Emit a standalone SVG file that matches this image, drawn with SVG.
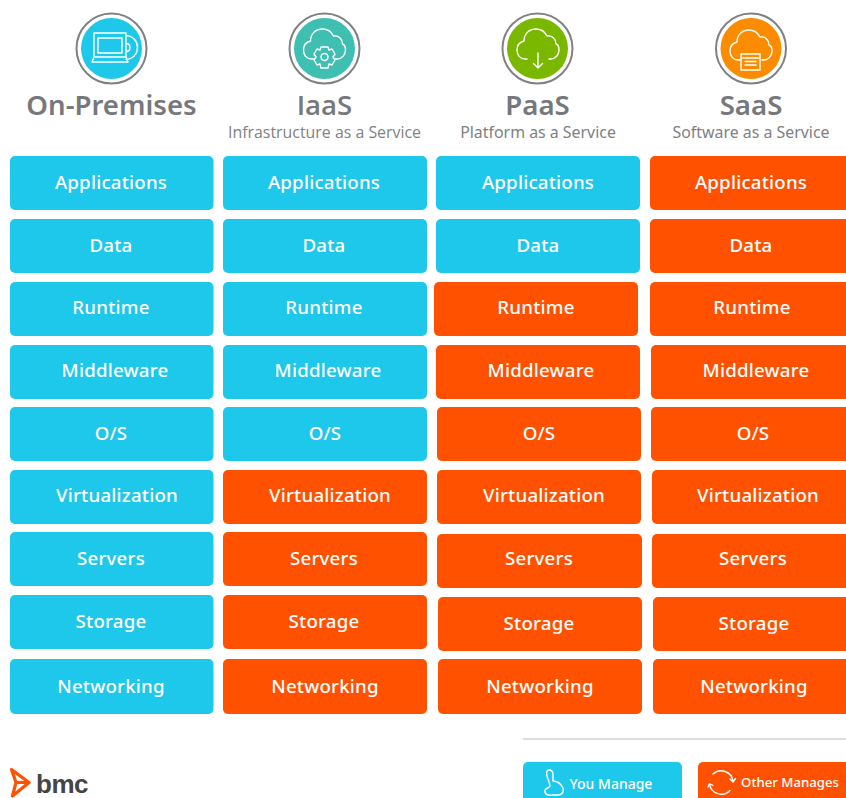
<svg xmlns="http://www.w3.org/2000/svg" width="846" height="798" viewBox="0 0 846 798">
<style>
.bg{fill:#fff}
.b{fill:#1ec8ea}
.o{fill:#ff5100}
.t{font-family:"Noto Sans","Open Sans",sans-serif;font-size:18.7px;font-weight:500;fill:#fff;text-anchor:middle;letter-spacing:.2px}
.h{font-family:"Noto Sans","Open Sans",sans-serif;font-size:27.6px;font-weight:600;fill:#77787b;text-anchor:middle}
.s{font-family:"Noto Sans","Open Sans",sans-serif;font-size:15.9px;fill:#808184;text-anchor:middle}
.os{font-family:"Open Sans","Noto Sans",sans-serif}
.ring{fill:#fff;stroke:#808184;stroke-width:2}
.i{fill:none;stroke:#fff;stroke-width:1.4;stroke-linecap:round;stroke-linejoin:round}
.l{font-family:"Noto Sans","Open Sans",sans-serif;font-size:14px;font-weight:500;fill:#fff;text-anchor:middle}
.l2{font-size:13.2px}
</style>
<rect class="bg" width="846" height="798"/>
<defs>
<path id="cloud" d="M-11 15H-13C-18 15-21 11-21 6-21 1-18-2-14-3-14-10-9-15-2-15 3-15 7-12 9-8 14-9 18-5 18 0 21 1 21 4 21 6 21 11 17 15 13 15H11"/>
</defs>

<g id="on-premises">
<circle class="ring" cx="111.500" cy="48.500" r="35"/>
<circle cx="111.500" cy="48.500" r="30.500" fill="#1ec8ea"/>
<path class="i" d="M94 33H126V57H94ZM98 38H122V53H98ZM94 57 92 62H128L126 57M126 35.500C133 36 137.500 41 137.500 47.500 137.500 54 133 59 126 59.500M126 43.500C128.500 43.500 130 45 130 47.500 130 50 128.500 51.500 126 51.500"/>
<text class="h" x="111.500" y="115">On-Premises</text>
</g>
<g id="iaas">
<circle class="ring" cx="324.500" cy="48.500" r="35"/>
<circle cx="324.500" cy="48.500" r="30.500" fill="#3fbfb1"/>
<use href="#cloud" class="i" transform="translate(324.500 44)"/>
<path class="i" d="M321 47H328L329 50 332 49 335 54 333 57 335 60 332 65 329 64 328 68H321L320 64 317 65 314 60 316 57 314 54 317 49 320 50Z" style="fill:#3fbfb1"/>
<circle class="i" cx="324.500" cy="57" r="3.500"/>
<text class="h os" x="324.500" y="115">IaaS</text>
<text class="s os" x="324.500" y="138">Infrastructure as a Service</text>
</g>
<g id="paas">
<circle class="ring" cx="537.500" cy="48.500" r="35"/>
<circle cx="537.500" cy="48.500" r="30.500" fill="#7ab800"/>
<use href="#cloud" class="i" transform="translate(538 44)"/>
<path class="i" d="M538 53V68M533.500 63.500 538 68 542.500 63.500"/>
<text class="h" x="537.500" y="115">PaaS</text>
<text class="s" x="538" y="138">Platform as a Service</text>
</g>
<g id="saas">
<circle class="ring" cx="751" cy="48.500" r="35"/>
<circle cx="751" cy="48.500" r="30.500" fill="#fb8c00"/>
<use href="#cloud" class="i" transform="translate(751 45)"/>
<path class="i" d="M741 54H760V70H741ZM741 58H760M745 61.500H756M745 65H756" style="fill:#fb8c00"/>
<text class="h" x="751" y="115">SaaS</text>
<text class="s" x="751" y="138">Software as a Service</text>
</g>

<g id="col-on-premises">
<g id="op-applications"><rect class="b" x="10" y="156" width="203.500" height="54" rx="5"/><text class="t" x="111" y="189">Applications</text></g>
<g id="op-data"><rect class="b" x="10" y="219" width="203.500" height="54" rx="5"/><text class="t" x="111" y="252">Data</text></g>
<g id="op-runtime"><rect class="b" x="10" y="282" width="203.500" height="54" rx="5"/><text class="t" x="111" y="314">Runtime</text></g>
<g id="op-middleware"><rect class="b" x="10" y="345" width="203.500" height="54" rx="5"/><text class="t" x="115" y="377">Middleware</text></g>
<g id="op-os"><rect class="b" x="10" y="407" width="203.500" height="54" rx="5"/><text class="t" x="111" y="440">O/S</text></g>
<g id="op-virtualization"><rect class="b" x="10" y="470" width="203.500" height="54" rx="5"/><text class="t" x="117" y="502">Virtualization</text></g>
<g id="op-servers"><rect class="b" x="10" y="532" width="203.500" height="54" rx="5"/><text class="t" x="111" y="565">Servers</text></g>
<g id="op-storage"><rect class="b" x="10" y="595" width="203.500" height="54" rx="5"/><text class="t" x="111" y="628">Storage</text></g>
<g id="op-networking"><rect class="b" x="10" y="659" width="203.500" height="55" rx="5"/><text class="t" x="111" y="693">Networking</text></g>
</g>

<g id="col-iaas">
<g id="ia-applications"><rect class="b" x="223" y="156" width="204" height="54" rx="5"/><text class="t" x="324" y="189">Applications</text></g>
<g id="ia-data"><rect class="b" x="223" y="219" width="204" height="54" rx="5"/><text class="t" x="324" y="252">Data</text></g>
<g id="ia-runtime"><rect class="b" x="223" y="282" width="204" height="54" rx="5"/><text class="t" x="324" y="314">Runtime</text></g>
<g id="ia-middleware"><rect class="b" x="223" y="345" width="204" height="54" rx="5"/><text class="t" x="328" y="377">Middleware</text></g>
<g id="ia-os"><rect class="b" x="223" y="407" width="204" height="54" rx="5"/><text class="t" x="325" y="440">O/S</text></g>
<g id="ia-virtualization"><rect class="o" x="223" y="470" width="204" height="54" rx="5"/><text class="t" x="330" y="502">Virtualization</text></g>
<g id="ia-servers"><rect class="o" x="223" y="532" width="204" height="54" rx="5"/><text class="t" x="324" y="565">Servers</text></g>
<g id="ia-storage"><rect class="o" x="223" y="595" width="204" height="54" rx="5"/><text class="t" x="324" y="628">Storage</text></g>
<g id="ia-networking"><rect class="o" x="223" y="659" width="204" height="55" rx="5"/><text class="t" x="325" y="693">Networking</text></g>
</g>

<g id="col-paas">
<g id="pa-applications"><rect class="b" x="436" y="156" width="204" height="54" rx="5"/><text class="t" x="538" y="189">Applications</text></g>
<g id="pa-data"><rect class="b" x="436" y="219" width="204" height="54" rx="5"/><text class="t" x="538" y="252">Data</text></g>
<g id="pa-runtime"><rect class="o" x="434" y="282" width="204" height="54" rx="5"/><text class="t" x="536" y="314">Runtime</text></g>
<g id="pa-middleware"><rect class="o" x="436" y="345" width="204" height="54" rx="5"/><text class="t" x="541" y="377">Middleware</text></g>
<g id="pa-os"><rect class="o" x="437" y="407" width="204" height="54" rx="5"/><text class="t" x="539" y="440">O/S</text></g>
<g id="pa-virtualization"><rect class="o" x="437" y="470" width="204" height="54" rx="5"/><text class="t" x="544" y="502">Virtualization</text></g>
<g id="pa-servers"><rect class="o" x="437" y="534" width="205" height="54" rx="5"/><text class="t" x="539" y="565">Servers</text></g>
<g id="pa-storage"><rect class="o" x="438" y="597" width="204" height="54" rx="5"/><text class="t" x="539" y="630">Storage</text></g>
<g id="pa-networking"><rect class="o" x="438" y="659" width="204" height="55" rx="5"/><text class="t" x="540" y="693">Networking</text></g>
</g>

<g id="col-saas">
<g id="sa-applications"><rect class="o" x="650" y="156" width="200" height="54" rx="5"/><text class="t" x="751" y="189">Applications</text></g>
<g id="sa-data"><rect class="o" x="650" y="219" width="200" height="54" rx="5"/><text class="t" x="751" y="252">Data</text></g>
<g id="sa-runtime"><rect class="o" x="650" y="282" width="200" height="54" rx="5"/><text class="t" x="752" y="314">Runtime</text></g>
<g id="sa-middleware"><rect class="o" x="651" y="345" width="200" height="54" rx="5"/><text class="t" x="756" y="377">Middleware</text></g>
<g id="sa-os"><rect class="o" x="651" y="407" width="200" height="54" rx="5"/><text class="t" x="753" y="440">O/S</text></g>
<g id="sa-virtualization"><rect class="o" x="652" y="470" width="200" height="54" rx="5"/><text class="t" x="758" y="502">Virtualization</text></g>
<g id="sa-servers"><rect class="o" x="652" y="534" width="200" height="54" rx="5"/><text class="t" x="753" y="565">Servers</text></g>
<g id="sa-storage"><rect class="o" x="653" y="597" width="200" height="54" rx="5"/><text class="t" x="754" y="630">Storage</text></g>
<g id="sa-networking"><rect class="o" x="653" y="659" width="200" height="55" rx="5"/><text class="t" x="754" y="693">Networking</text></g>
</g>

<g id="legend">
<rect x="523" y="738" width="323" height="2" fill="#dcddde"/>
<g id="you-manage"><rect class="b" x="523" y="762" width="159" height="40" rx="5"/>
<path class="i" d="M547 771C549 769 553 770 553 774V781C557 781 561 784 563 788 564 792 562 795 558 795H552C548 796 544 794 545 790 546 788 549 788 550 786 550 782 545 775 547 771Z"/>
<text class="l" x="611" y="789">You Manage</text></g>
<g id="other-manages"><rect class="o" x="698" y="762" width="152" height="40" rx="5"/>
<path class="i" d="M713 774A12 12 0 0 1 733 781M730 790.500A12 12 0 0 1 709.500 784M708 787 709.500 783.500 713 785.500M735.500 778.500 733 782 730 779"/>
<text class="l l2" x="790" y="787">Other Manages</text></g>
</g>

<g id="bmc-logo">
<path d="M11.500 769.500 29 782.500 12.500 796 16 782.500Z M16 782.500H29" fill="none" stroke="#ff5100" stroke-width="3.200" stroke-linejoin="round"/>
<text x="62" y="793" font-family="Liberation Sans,sans-serif" font-size="26" font-weight="700" fill="#454545" text-anchor="middle" letter-spacing="-.5">bmc</text>
</g>
</svg>
